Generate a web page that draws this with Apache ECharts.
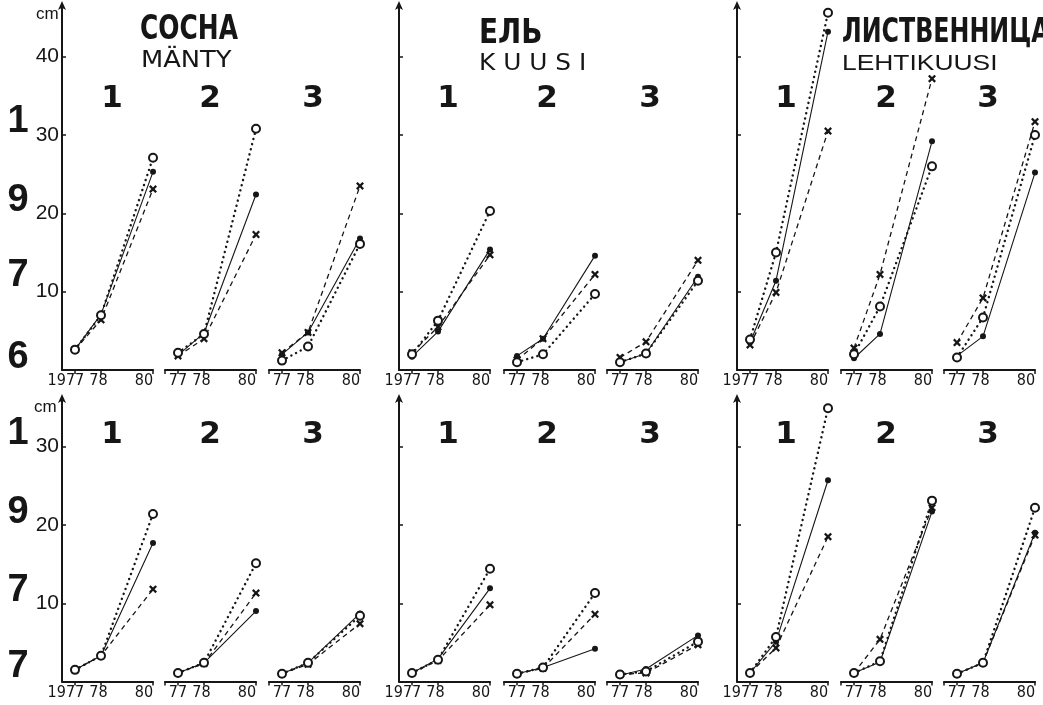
<!DOCTYPE html>
<html><head><meta charset="utf-8">
<script src="https://cdn.jsdelivr.net/npm/echarts@6/dist/echarts.min.js"></script>
<style>html,body{margin:0;padding:0;background:#fff}#c{width:1043px;height:705px}</style>
</head><body><div id="c"></div>
<script>
// ---- data ----
const years = [1977, 1978, 1980];
const speciesRu = ['СОСНА', 'ЕЛЬ', 'ЛИСТВЕННИЦА'];
const speciesFi = ['MÄNTY', 'K U U S I', 'LEHTIKUUSI'];
const sites = ['1', '2', '3'];
const rowYearLabels = ['1976', '1977'];
const yTicksTop = [10, 20, 30, 40];
const yTicksBottom = [10, 20, 30];
const yUnit = 'cm';
// each entry: [1977, 1978, 1980] for species x site (pine 1-3, spruce 1-3, larch 1-3)
// top row (1976)
const openTop = [[2.6, 7.0, 27.1], [2.2, 4.6, 30.8], [1.2, 3.0, 16.1],
                 [2.0, 6.3, 20.3], [1.0, 2.0, 9.7], [1.0, 2.1, 11.4],
                 [3.9, 15.0, 45.6], [2.0, 8.1, 26.0], [1.6, 6.7, 30.0]];
const filledTop = [[2.6, 7.1, 25.3], [1.9, 4.7, 22.4], [2.0, 4.8, 16.8],
                   [1.7, 4.9, 15.4], [1.8, 4.0, 14.6], [1.0, 2.1, 11.9],
                   [3.5, 11.4, 43.2], [1.5, 4.6, 29.2], [1.8, 4.3, 25.2]];
const crossTop = [[2.6, 6.4, 23.1], [1.8, 4.0, 17.3], [2.2, 4.8, 23.5],
                  [2.2, 5.5, 14.7], [1.3, 4.0, 12.2], [1.6, 3.6, 14.0],
                  [3.2, 9.9, 30.5], [2.8, 12.2, 37.2], [3.5, 9.2, 31.7]];
// bottom row (1977)
const openBot = [[1.5, 3.3, 21.4], [1.1, 2.4, 15.1], [1.0, 2.4, 8.4],
                 [1.1, 2.8, 14.4], [1.0, 1.8, 11.3], [0.9, 1.3, 5.1],
                 [1.1, 5.7, 34.9], [1.1, 2.6, 23.1], [1.0, 2.4, 22.2]];
const filledBot = [[1.5, 3.3, 17.7], [1.1, 2.4, 9.0], [1.0, 2.4, 8.7],
                   [1.1, 2.9, 11.9], [1.0, 1.8, 4.2], [0.8, 1.6, 5.9],
                   [1.1, 5.1, 25.7], [1.1, 2.5, 21.7], [1.0, 2.4, 19.0]];
const crossBot = [[1.5, 3.3, 11.8], [1.1, 2.3, 11.3], [1.0, 2.2, 7.4],
                  [1.1, 2.7, 9.8], [1.0, 1.7, 8.6], [0.9, 1.1, 4.7],
                  [1.1, 4.3, 18.5], [1.1, 5.4, 22.2], [1.0, 2.4, 18.7]];

// ---- layout ----
const INK = '#161616';
const subLefts = [[62, 165, 269], [399, 504, 607], [737, 841, 944]];
const rows = [
  { top: 5, height: 365, max: 46.6, ticks: yTicksTop, open: openTop, filled: filledTop, cross: crossTop },
  { top: 398, height: 283.6, max: 36.2, ticks: yTicksBottom, open: openBot, filled: filledBot, cross: crossBot }
];
const narrow = '"Liberation Sans Narrow", "DejaVu Sans Condensed", "Liberation Sans", sans-serif';
const crossPath = 'path://M2,0L5,3L8,0L10,2L7,5L10,8L8,10L5,7L2,10L0,8L3,5L0,2Z';

const grid = [], xAxis = [], yAxis = [], series = [];
rows.forEach((row, r) => {
  for (let s = 0; s < 3; s++) {
    for (let k = 0; k < 3; k++) {
      const gi = grid.length;
      grid.push({ left: subLefts[s][k], top: row.top, width: 91, height: row.height });
      xAxis.push({
        type: 'value', gridIndex: gi, min: 1976.5, max: 1980,
        axisLine: { show: true, onZero: false, lineStyle: { color: INK, width: 2 } },
        splitLine: { show: false },
        axisTick: { show: true, length: 4, lineStyle: { color: INK, width: 1.5 },
          customValues: k === 0 ? [1977, 1978, 1980] : [1976.5, 1977, 1978, 1980] },
        axisLabel: {
          customValues: [k === 0 ? 1976.65 : 1977, 1977.9, 1979.65],
          formatter: v => { const y = Math.round(v); return (k === 0 && y === 1977) ? String(y) : String(y).slice(2); },
          color: INK, fontSize: 16, fontFamily: narrow, margin: 3
        }
      });
      yAxis.push({
        type: 'value', gridIndex: gi, min: 0, max: row.max, interval: 10,
        show: k === 0,
        axisLine: { show: true, symbol: ['none', 'arrow'], symbolSize: [6, 9], symbolOffset: [0, 4], lineStyle: { color: INK, width: 2 } },
        axisTick: { show: true, inside: true, length: 4, customValues: row.ticks, lineStyle: { color: INK, width: 1.5 } },
        axisLabel: { show: s === 0, customValues: row.ticks, color: INK, fontSize: 21, fontFamily: '"Liberation Sans", Arial, sans-serif', margin: 3 },
        splitLine: { show: false }
      });
      const idx = s * 3 + k;
      const mk = arr => years.map((yr, i) => [yr, arr[idx][i]]);
      series.push({
        type: 'line', xAxisIndex: gi, yAxisIndex: gi, data: mk(row.cross), z: 3,
        symbol: crossPath, symbolSize: 8,
        itemStyle: { color: INK },
        lineStyle: { color: INK, width: 1.3, type: [5, 4] }
      });
      series.push({
        type: 'line', xAxisIndex: gi, yAxisIndex: gi, data: mk(row.filled), z: 4,
        symbol: 'circle', symbolSize: 6,
        itemStyle: { color: INK },
        lineStyle: { color: INK, width: 1.1, type: 'solid' }
      });
      series.push({
        type: 'line', xAxisIndex: gi, yAxisIndex: gi, data: mk(row.open), z: 5,
        symbol: 'emptyCircle', symbolSize: 8,
        itemStyle: { color: INK, borderWidth: 1.4 },
        lineStyle: { color: INK, width: 2.4, type: [0.1, 5.2], cap: 'round' }
      });
    }
  }
});

// ---- text ----
const graphic = [];
function txt(text, x, y, font, align, valign, scaleX) {
  graphic.push({ type: 'text', silent: true, x, y, scaleX: scaleX || 1,
    style: { text, x: 0, y: 0, font, fill: INK, textAlign: align || 'center', textVerticalAlign: valign || 'middle' } });
}
const titleFont = 'bold 33px ' + narrow;
const subFont = '23px "DejaVu Sans", sans-serif';
txt(speciesRu[0], 140, 30, titleFont, 'left', 'middle', 0.84);
txt(speciesFi[0], 141, 61, subFont, 'left', 'middle', 1.12);
txt(speciesRu[1], 479, 34, titleFont, 'left', 'middle', 0.94);
txt(speciesFi[1], 479, 64, subFont, 'left', 'middle', 1.08);
txt(speciesRu[2], 842, 33, titleFont, 'left', 'middle', 0.8);
txt(speciesFi[2], 842, 64, '22px "Liberation Sans", sans-serif', 'left', 'middle', 1.2);
const siteX = [[112, 210, 313], [448, 547, 650], [786, 886, 988]];
const siteY = [99, 435];
const siteFont = 'bold 31px "DejaVu Sans", sans-serif';
siteY.forEach(y => siteX.forEach(xs => xs.forEach((x, k) => txt(sites[k], x, y, siteFont))));
const bigFont = 'bold 38px "Liberation Sans", Arial, sans-serif';
const leftY = [[122, 201, 276, 358], [434, 513, 591, 667]];
rowYearLabels.forEach((lbl, r) => lbl.split('').forEach((ch, i) => txt(ch, 18, leftY[r][i], bigFont)));
txt(yUnit, 36, 14, '17px "Liberation Sans", sans-serif', 'left');
txt(yUnit, 34, 407, '17px "Liberation Sans", sans-serif', 'left');

const chart = echarts.init(document.getElementById('c'), null, { renderer: 'canvas' });
chart.setOption({ backgroundColor: '#fff', animation: false, grid, xAxis, yAxis, series, graphic });
</script></body></html>
